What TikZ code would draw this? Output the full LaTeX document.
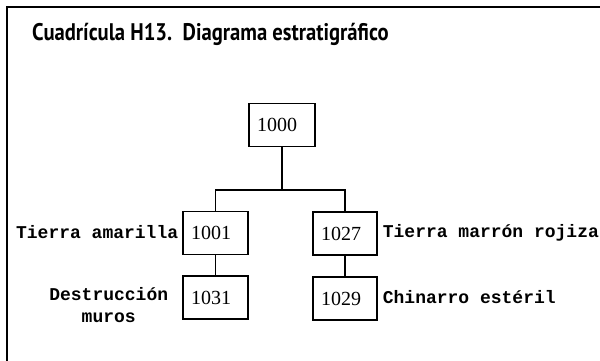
\documentclass[tikz,border=0pt]{standalone}
\usepackage{fontspec}
\setmainfont{Liberation Serif}
\newfontfamily\titlefont{PT Sans}
\newfontfamily\labfont{Liberation Mono}
\usetikzlibrary{calc}
\begin{document}
\begin{tikzpicture}[x=1pt,y=-1pt,
  unit/.style={draw,line width=1.3pt,rectangle,minimum height=43pt,inner xsep=8pt,
    text width=48pt,align=left,font=\fontsize{20}{21}\selectfont},
  lab/.style={inner sep=0pt,font=\labfont\bfseries\fontsize{18}{22}\selectfont},
  link/.style={line width=1.3pt}]
\useasboundingbox (0,0) rectangle (600,360);
\draw[line width=2pt] (7,362) -- (7,7) -- (602,7);
\node[anchor=base west,inner sep=0pt,font=\titlefont\bfseries\fontsize{24}{26}\selectfont] (title) at (32,40)
  {\scalebox{0.86}[1]{Cuadrícula H13.\ \ Diagrama estratigráfico}};
\node[unit,minimum width=66pt,text width=50pt] (n1000) at (282,125) {1000};
\node[unit,minimum width=65pt,text width=49pt] (n1001) at (215.5,233) {1001};
\node[unit,minimum width=65pt,text width=49pt] (n1031) at (215.5,297.5) {1031};
\node[unit,minimum width=64pt,text width=48pt] (n1027) at (345,233.5) {1027};
\node[unit,minimum width=64pt,text width=48pt] (n1029) at (345,298.5) {1029};
\coordinate (j) at (282,190);
\draw[link] (n1000.south) -- (j);
\draw[link] (n1001.north) |- (j) -| (n1027.north);
\draw[link] (n1001.south) -- (n1031.north);
\draw[link] (n1027.south) -- (n1029.north);
\node[lab,anchor=east] (l1001) at ($(n1001.west)+(-4,-1)$) {Tierra amarilla};
\node[lab,anchor=east,align=center] (l1031) at ($(n1031.west)+(-14,8)$) {Destrucción\\muros};
\node[lab,anchor=west] (l1027) at ($(n1027.east)+(5,-1)$) {Tierra marrón rojiza};
\node[lab,anchor=west] (l1029) at ($(n1029.east)+(5,-1)$) {Chinarro estéril};
\end{tikzpicture}
\end{document}
